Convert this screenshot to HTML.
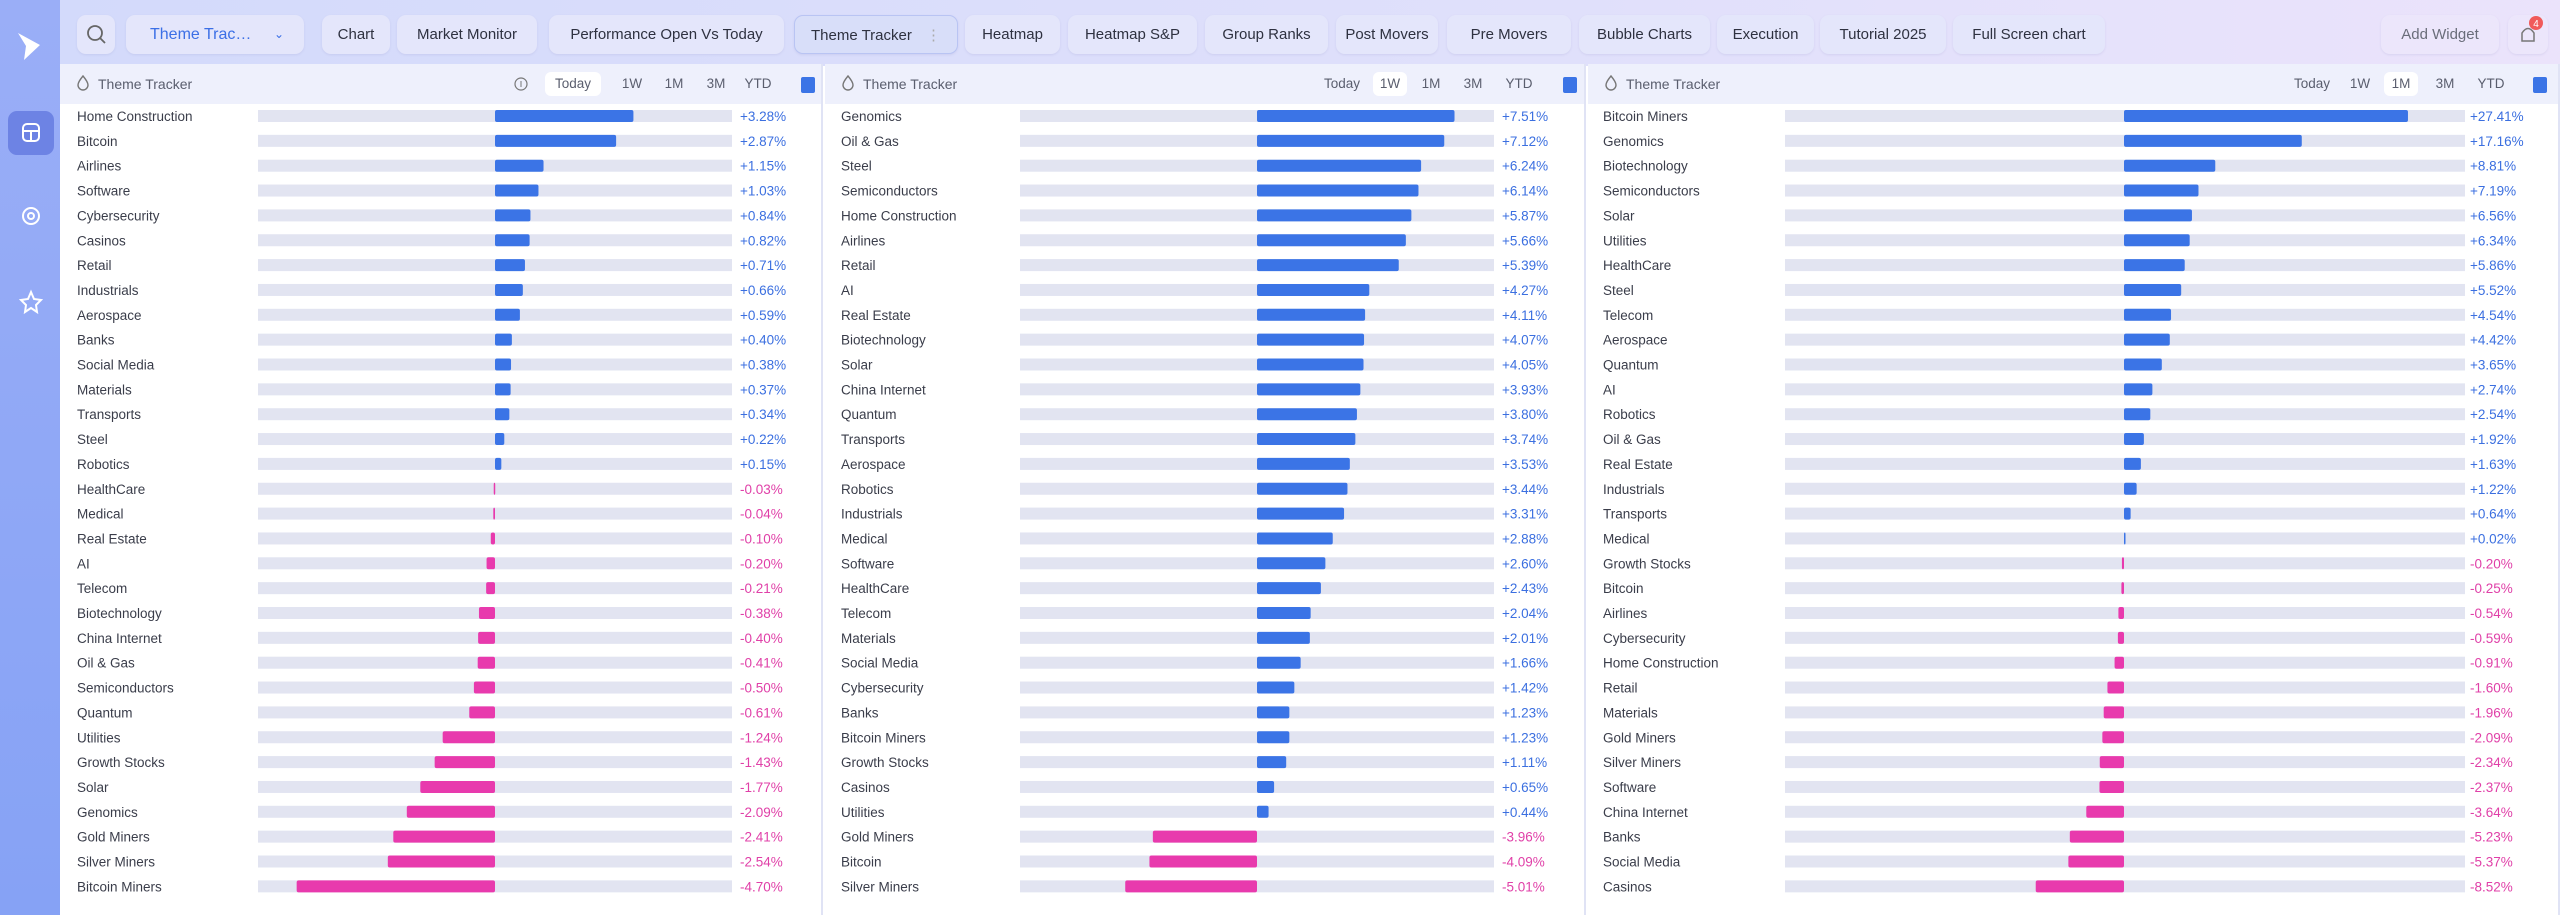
<!DOCTYPE html>
<html><head><meta charset="utf-8">
<style>
*{box-sizing:border-box;margin:0;padding:0}
body{width:2560px;height:915px;overflow:hidden;font-family:"Liberation Sans",sans-serif;background:#fff;position:relative;color:#3a3d4a}
#sidebar{position:absolute;left:0;top:0;width:60px;height:915px;background:linear-gradient(180deg,#9aaef7,#86a2f5)}
#topbar{position:absolute;left:60px;top:0;width:2500px;height:66px;background:linear-gradient(90deg,#d3dafb,#e0e0fb 60%,#ebe3fb)}
.tab{position:absolute;top:15px;height:39px;border-radius:9px;background:#e4e6fb;font-size:15px;line-height:39px;text-align:center;color:#2e3140;box-shadow:0 1px 2px rgba(120,120,180,.15)}
.panel{position:absolute;top:64px;height:851px;background:#fff;border-right:2px solid #e0e3f5}
.phead{position:absolute;left:0;top:0;right:0;height:40px;background:#eef0fc}
.ptitle{position:absolute;left:16px;top:11px;font-size:14px;color:#5a5e6e}
.pbtn{position:absolute;top:8px;height:24px;line-height:24px;font-size:13.5px;color:#5a5e6e;text-align:center;border-radius:6px}
.pbtn.on{background:#fff}
.sq{position:absolute;top:13px;width:14px;height:16px;background:#3b74e6;border-radius:2px}
svg text{font-family:"Liberation Sans",sans-serif}
</style></head><body>
<div id="sidebar">
 <svg width="60" height="400">
  <path d="M18 33 L40 45 L24 60 L26 46 Z" fill="#fff"/>
  <rect x="8" y="111" width="46" height="44" rx="9" fill="#6d83e4"/>
  <rect x="23" y="124" width="16" height="17" rx="4" fill="none" stroke="#fff" stroke-width="2"/>
  <line x1="23" y1="131" x2="39" y2="131" stroke="#fff" stroke-width="2"/><line x1="31" y1="131" x2="31" y2="141" stroke="#fff" stroke-width="2"/>
  <circle cx="31" cy="216" r="8" fill="none" stroke="#fff" stroke-width="2"/>
  <circle cx="31" cy="216" r="3" fill="none" stroke="#fff" stroke-width="2"/>
  <path d="M31 292 L34 299 L41 300 L36 305 L37 312 L31 308 L25 312 L26 305 L21 300 L28 299 Z" fill="none" stroke="#fff" stroke-width="2"/>
 </svg>
</div>
<div id="topbar"></div>
<div id="tabs"></div>
<div id="panels"></div>
<script>
const tabNames=["Chart","Market Monitor","Performance Open Vs Today","Theme Tracker","Heatmap","Heatmap S&P","Group Ranks","Post Movers","Pre Movers","Bubble Charts","Execution","Tutorial 2025","Full Screen chart"];
const tabX=[322,397,549,794,965,1068,1205,1336,1447,1579,1717,1820,1953];
const tabW=[68,140,235,164,95,129,123,102,124,131,97,126,152];
const p1Labels=["Home Construction","Bitcoin","Airlines","Software","Cybersecurity","Casinos","Retail","Industrials","Aerospace","Banks","Social Media","Materials","Transports","Steel","Robotics","HealthCare","Medical","Real Estate","AI","Telecom","Biotechnology","China Internet","Oil & Gas","Semiconductors","Quantum","Utilities","Growth Stocks","Solar","Genomics","Gold Miners","Silver Miners","Bitcoin Miners"];
const p1Values=[3.28,2.87,1.15,1.03,0.84,0.82,0.71,0.66,0.59,0.40,0.38,0.37,0.34,0.22,0.15,-0.03,-0.04,-0.10,-0.20,-0.21,-0.38,-0.40,-0.41,-0.50,-0.61,-1.24,-1.43,-1.77,-2.09,-2.41,-2.54,-4.70];
const p2Labels=["Genomics","Oil & Gas","Steel","Semiconductors","Home Construction","Airlines","Retail","AI","Real Estate","Biotechnology","Solar","China Internet","Quantum","Transports","Aerospace","Robotics","Industrials","Medical","Software","HealthCare","Telecom","Materials","Social Media","Cybersecurity","Banks","Bitcoin Miners","Growth Stocks","Casinos","Utilities","Gold Miners","Bitcoin","Silver Miners"];
const p2Values=[7.51,7.12,6.24,6.14,5.87,5.66,5.39,4.27,4.11,4.07,4.05,3.93,3.80,3.74,3.53,3.44,3.31,2.88,2.60,2.43,2.04,2.01,1.66,1.42,1.23,1.23,1.11,0.65,0.44,-3.96,-4.09,-5.01];
const p3Labels=["Bitcoin Miners","Genomics","Biotechnology","Semiconductors","Solar","Utilities","HealthCare","Steel","Telecom","Aerospace","Quantum","AI","Robotics","Oil & Gas","Real Estate","Industrials","Transports","Medical","Growth Stocks","Bitcoin","Airlines","Cybersecurity","Home Construction","Retail","Materials","Gold Miners","Silver Miners","Software","China Internet","Banks","Social Media","Casinos"];
const p3Values=[27.41,17.16,8.81,7.19,6.56,6.34,5.86,5.52,4.54,4.42,3.65,2.74,2.54,1.92,1.63,1.22,0.64,0.02,-0.20,-0.25,-0.54,-0.59,-0.91,-1.60,-1.96,-2.09,-2.34,-2.37,-3.64,-5.23,-5.37,-8.52];
const periods=["Today","1W","1M","3M","YTD"];

const tabs=document.getElementById('tabs');
function mk(html){const d=document.createElement('div');d.innerHTML=html;return d.firstElementChild;}
let s=mk('<div class="tab" style="left:77px;width:38px"></div>');


s.innerHTML='<svg width="38" height="39"><circle cx="18" cy="18" r="7" fill="none" stroke="#666" stroke-width="1.8"/><line x1="23" y1="23" x2="28" y2="28" stroke="#666" stroke-width="1.8"/></svg>';
tabs.appendChild(s);
let dd=mk('<div class="tab" style="left:126px;width:178px;color:#3b6fe6;font-size:16px;text-align:left;padding-left:24px">Theme Trac… <span style="position:absolute;right:20px;font-size:12px">&#8964;</span></div>');


tabs.appendChild(dd);
tabNames.forEach((n,i)=>{
 const t=document.createElement('div');t.className='tab';
 t.style.left=tabX[i]+'px';t.style.width=tabW[i]+'px';
 t.textContent=n;
 if(n==="Theme Tracker"){t.style.background='#d8def9';t.style.border='1px solid #b9c4f3';t.innerHTML=n+' <span style="color:#aaa;margin-left:10px">⋮</span>';}
 
 
 tabs.appendChild(t);
});
let aw=mk('<div class="tab" style="left:2381px;width:118px;color:#6a6d7a;background:#ece6fb">Add Widget</div>');


tabs.appendChild(aw);
let bell=mk('<div class="tab" style="left:2508px;width:40px;background:#ece6fb"><svg width="40" height="39"><path d="M14 26 L14 18 Q20 9 26 18 L26 26 Z" fill="none" stroke="#777" stroke-width="1.5"/><circle cx="28" cy="8" r="7" fill="#f05a5a"/><text x="28" y="12" font-size="10" fill="#fff" text-anchor="middle">4</text></svg></div>');


tabs.appendChild(bell);

const panelsCfg=[
 {x:60,w:763,labels:p1Labels,values:p1Values,active:0,info:true,trackL:258,trackR:732,zero:495,scale:42.2,valX:740,labX:77,btnX:[545,615,657,699,741],sqX:801},
 {x:825,w:761,labels:p2Labels,values:p2Values,active:1,info:false,trackL:1020,trackR:1494,zero:1257,scale:26.3,valX:1502,labX:841,btnX:[1314,1373,1414,1456,1502],sqX:1563},
 {x:1588,w:972,labels:p3Labels,values:p3Values,active:2,info:false,trackL:1785,trackR:2465,zero:2124,scale:10.36,valX:2470,labX:1603,btnX:[2284,2343,2384,2428,2474],sqX:2533}
];
const panels=document.getElementById('panels');
const NS='http://www.w3.org/2000/svg';
panelsCfg.forEach((c,pi)=>{
 const p=document.createElement('div');p.className='panel';
 p.style.left=c.x+'px';p.style.width=c.w+'px';
 
 
 const h=document.createElement('div');h.className='phead';
 
 
 h.innerHTML='<div class="ptitle"></div>';
 const ti=h.firstChild;ti.innerHTML='<svg width="14" height="16" style="vertical-align:-2px;margin-right:8px"><path d="M7 1 Q12 7 12 10 A5 5 0 0 1 2 10 Q2 7 7 1Z" fill="none" stroke="#777" stroke-width="1.4"/></svg>Theme Tracker';
 
 
 if(c.info){const inf=document.createElement('div');inf.className='pbtn';inf.style.left=(513-c.x)+'px';inf.style.width='16px';inf.innerHTML='<svg width="16" height="24"><circle cx="8" cy="12" r="6" fill="none" stroke="#777" stroke-width="1.2"/><line x1="8" y1="9" x2="8" y2="15" stroke="#777"/></svg>';
  
  
  h.appendChild(inf);}
 periods.forEach((pr,i)=>{const b=document.createElement('div');b.className='pbtn'+(i===c.active?' on':'');
  b.style.left=(c.btnX[i]-c.x)+'px';b.style.width=(i===0?56:34)+'px';b.textContent=pr;
  
  
  h.appendChild(b);});
 const sq=document.createElement('div');sq.className='sq';sq.style.left=(c.sqX-c.x)+'px';
 
 
 h.appendChild(sq);
 p.appendChild(h);
 const svg=document.createElementNS(NS,'svg');
 svg.setAttribute('width',c.w);svg.setAttribute('height',811);
 svg.style.position='absolute';svg.style.left='0';svg.style.top='40px';
 
 
 const yRow=i=>116-104+i*24.85;
 const xv=v=>c.zero+v*c.scale-c.x;
 c.labels.forEach((lab,i)=>{
  const v=c.values[i];const y=yRow(i);
  const t=document.createElementNS(NS,'text');t.setAttribute('x',c.labX-c.x);t.setAttribute('y',y+5);
  t.setAttribute('font-size','13.5');t.setAttribute('fill','#3a3d4a');t.textContent=lab;
  
  
  svg.appendChild(t);
  const tr=document.createElementNS(NS,'rect');tr.setAttribute('x',c.trackL-c.x);tr.setAttribute('y',y-6);
  tr.setAttribute('width',c.trackR-c.trackL);tr.setAttribute('height',12);tr.setAttribute('fill','#e2e4f1');
  
  
  svg.appendChild(tr);
  const b=document.createElementNS(NS,'rect');const x0=xv(0),x1=xv(v);
  b.setAttribute('x',Math.min(x0,x1));b.setAttribute('y',y-6);
  b.setAttribute('width',Math.max(Math.abs(x1-x0),1.5));b.setAttribute('height',12);b.setAttribute('rx',2);
  b.setAttribute('fill',v>=0?'#3b74e6':'#e83aad');
  
  
  svg.appendChild(b);
  const vt=document.createElementNS(NS,'text');vt.setAttribute('x',c.valX-c.x);vt.setAttribute('y',y+5);
  vt.setAttribute('font-size','13.5');vt.setAttribute('fill',v>=0?'#3b6fe0':'#e040a8');
  vt.textContent=(v>=0?'+':'')+v.toFixed(2)+'%';
  
  
  svg.appendChild(vt);
 });
 p.appendChild(svg);
 panels.appendChild(p);
});
</script>
</body></html>
